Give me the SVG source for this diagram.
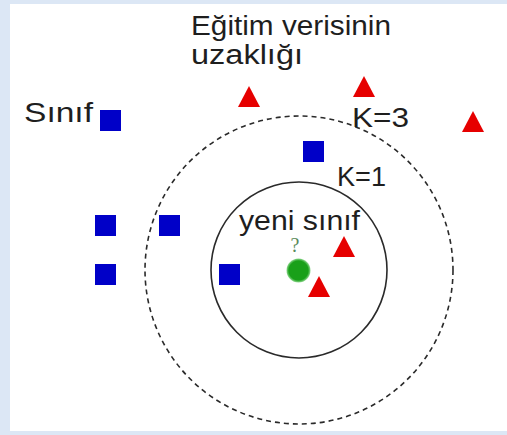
<svg xmlns="http://www.w3.org/2000/svg" xmlns:xlink="http://www.w3.org/1999/xlink" width="507" height="435" viewBox="0 0 507 435">
  <style>
    .lbl { font-family: "Liberation Sans", Arial, sans-serif; font-size: 27px; fill: #1e1e1e; }
    .sq { fill: #0000c8; }
    .tri { fill: #e60000; }
    .ring { fill: none; stroke: #2a2a2a; stroke-width: 1.6; }
    .dash { stroke-dasharray: 5 4; }
  </style>
  <defs>
    <rect id="square" width="21" height="21" class="sq"/>
    <path id="triangle" d="M11 0 L22 21 L0 21 Z" class="tri"/>
    <radialGradient id="halo">
      <stop offset="0.8" stop-color="#19a019"/>
      <stop offset="1" stop-color="#8fd88f"/>
    </radialGradient>
  </defs>

  <!-- frame -->
  <rect x="0" y="0" width="507" height="435" fill="#dce7f5"/>
  <rect x="10" y="4" width="497" height="427" fill="#ffffff"/>

  <!-- neighbourhood rings around the new sample -->
  <g id="connectors">
    <circle id="ring-k3" cx="299" cy="270" r="154" class="ring dash"/>
    <circle id="ring-k1" cx="299" cy="270" r="88" class="ring"/>
  </g>

  <!-- labels -->
  <g id="label-distance">
    <text class="lbl" x="191" y="35" textLength="200" lengthAdjust="spacingAndGlyphs">Eğitim verisinin</text>
    <text class="lbl" x="191" y="64" textLength="112" lengthAdjust="spacingAndGlyphs">uzaklığı</text>
  </g>
  <g id="label-class">
    <text class="lbl" x="24" y="122" textLength="69" lengthAdjust="spacingAndGlyphs">Sınıf</text>
  </g>
  <g id="label-k3">
    <text class="lbl" x="352" y="127" textLength="57" lengthAdjust="spacingAndGlyphs">K=3</text>
  </g>
  <g id="label-k1">
    <text class="lbl" x="337" y="186" textLength="49" lengthAdjust="spacingAndGlyphs">K=1</text>
  </g>
  <g id="label-new">
    <text class="lbl" x="239" y="230" textLength="121" lengthAdjust="spacingAndGlyphs">yeni sınıf</text>
  </g>

  <!-- class A samples (squares) -->
  <g id="sq-legend"><use xlink:href="#square" x="100" y="110"/></g>
  <g id="sq-1"><use xlink:href="#square" x="95" y="215"/></g>
  <g id="sq-2"><use xlink:href="#square" x="159" y="215"/></g>
  <g id="sq-3"><use xlink:href="#square" x="95" y="264"/></g>
  <g id="sq-4"><use xlink:href="#square" x="303" y="141"/></g>
  <g id="sq-5"><use xlink:href="#square" x="219" y="264"/></g>

  <!-- class B samples (triangles) -->
  <g id="tri-1"><use xlink:href="#triangle" x="238" y="86"/></g>
  <g id="tri-2"><use xlink:href="#triangle" x="353" y="76"/></g>
  <g id="tri-3"><use xlink:href="#triangle" x="462" y="111"/></g>
  <g id="tri-4"><use xlink:href="#triangle" x="333" y="236"/></g>
  <g id="tri-5"><use xlink:href="#triangle" x="308" y="276"/></g>

  <!-- sample to classify -->
  <g id="new-sample">
    <circle cx="298.5" cy="270.5" r="12" fill="url(#halo)"/>
    <text x="295" y="252" font-family="'Liberation Serif', 'Times New Roman', serif" font-size="20" fill="#5a8a5a" text-anchor="middle">?</text>
  </g>
</svg>
